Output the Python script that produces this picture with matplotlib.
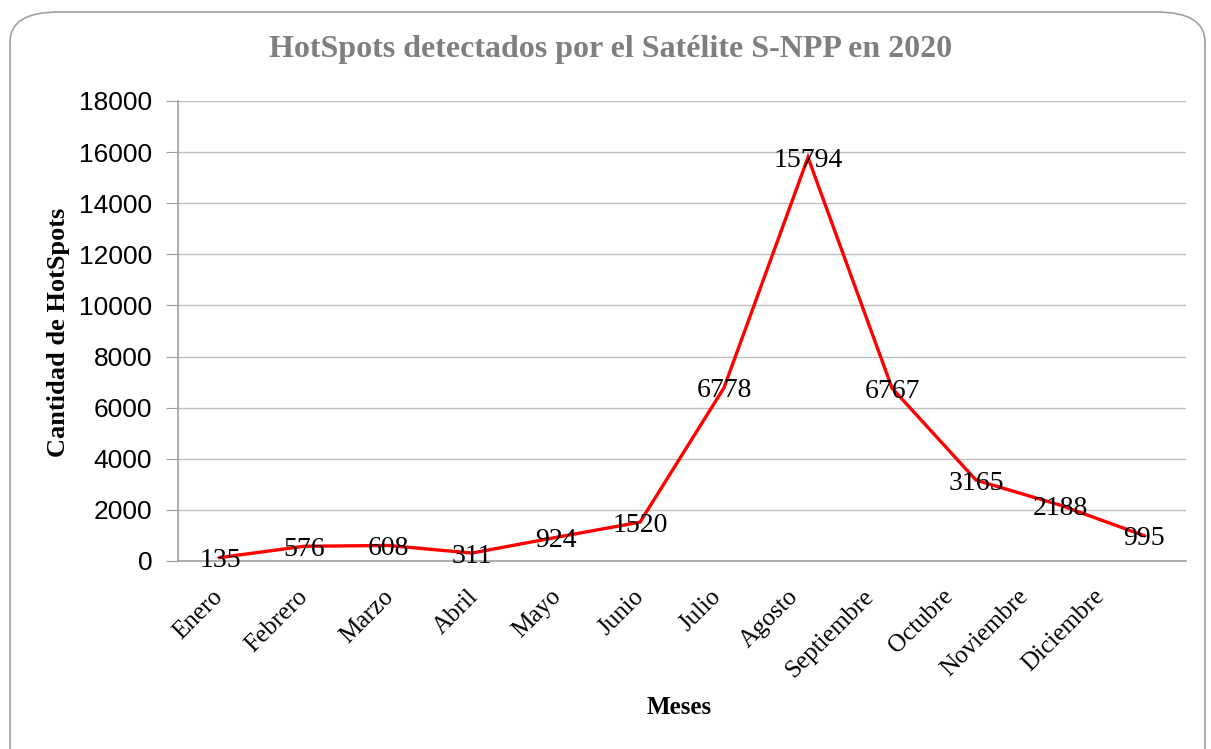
import matplotlib
matplotlib.use("Agg")
import matplotlib.pyplot as plt
from matplotlib.patches import FancyBboxPatch
from matplotlib.transforms import ScaledTranslation

meses = ["Enero", "Febrero", "Marzo", "Abril", "Mayo", "Junio", "Julio",
         "Agosto", "Septiembre", "Octubre", "Noviembre", "Diciembre"]
hotspots = [135, 576, 608, 311, 924, 1520, 6778, 15794, 6767, 3165, 2188, 995]
yticks = [0, 2000, 4000, 6000, 8000, 10000, 12000, 14000, 16000, 18000]

W, H = 1211, 749
fig = plt.figure(figsize=(W / 100, H / 100), dpi=100)
fig.patch.set_facecolor("white")

# rounded border
border = FancyBboxPatch((10 / W, -0.05), 1195 / W, (H - 12) / H + 0.05,
                        boxstyle="round,pad=0,rounding_size=0.04",
                        transform=fig.transFigure, facecolor="none",
                        edgecolor="#a0a0a0", linewidth=1.2)
fig.patches.append(border)

ax = fig.add_axes([178 / W, 1 - 561 / H, (1186 - 178) / W, (561 - 101) / H])
x = list(range(len(meses)))
ax.plot(x, hotspots, color="#ff0000", linewidth=2.4, solid_joinstyle="miter")
ax.set_xlim(-0.5, len(meses) - 0.5)
ax.set_ylim(0, 18000)
ax.set_yticks(yticks)
ax.set_yticklabels([str(v) for v in yticks], fontfamily="Liberation Sans", fontsize=19)
ax.yaxis.grid(True, color="#bfbfbf", linewidth=1)
ax.set_axisbelow(True)
ax.tick_params(axis="y", direction="out", length=9, color="#a0a0a0", pad=9.5)
ax.tick_params(axis="x", length=0, pad=17.5)
ax.set_xticks(x)
ax.set_xticklabels(meses, rotation=45, ha="right", rotation_mode="anchor",
                   fontfamily="Liberation Serif", fontsize=18)
# horizontal pixel shifts of the rotated month labels (layout only)
label_dx = [-8, -7, -6, -5, -6, -7, -14, -21, -29, -34, -43, -51]
for lbl, dx in zip(ax.get_xticklabels(), label_dx):
    lbl.set_transform(lbl.get_transform() +
                      ScaledTranslation(dx / 100, 0, fig.dpi_scale_trans))

for s in ["top", "right"]:
    ax.spines[s].set_visible(False)
for s in ["left", "bottom"]:
    ax.spines[s].set_color("#a0a0a0")
    ax.spines[s].set_linewidth(1.2)

lab_off = ScaledTranslation(0, -3 / 100, fig.dpi_scale_trans)
for xi, v in zip(x, hotspots):
    ax.text(xi, v, str(v), ha="center", va="center",
            transform=ax.transData + lab_off,
            fontfamily="Liberation Serif", fontsize=20, color="black")

fig.text(611 / W, 1 - 50 / H, "HotSpots detectados por el Satélite S-NPP en 2020",
         ha="center", va="center", fontfamily="Liberation Serif",
         fontweight="bold", fontsize=23, color="#7f7f7f")
fig.text(58 / W, 1 - 332 / H, "Cantidad de HotSpots", rotation=90,
         ha="center", va="center", fontfamily="Liberation Serif",
         fontweight="bold", fontsize=19)
fig.text(679 / W, 1 - 707 / H, "Meses", ha="center", va="center",
         fontfamily="Liberation Serif", fontweight="bold", fontsize=18)

fig.savefig("out.png", dpi=100)
